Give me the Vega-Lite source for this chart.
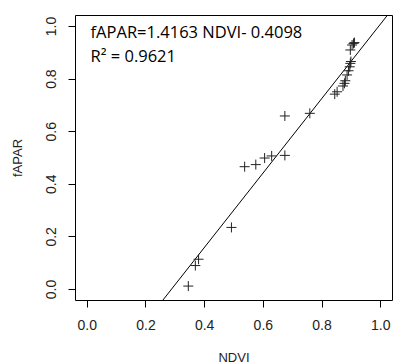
{
  "$schema": "https://vega.github.io/schema/vega-lite/v6.json",
  "width": 317,
  "height": 285,
  "autosize": {"type": "none"},
  "padding": {"left": 75, "top": 15, "right": 2, "bottom": 63},
  "background": "white",
  "config": {
    "view": {"stroke": "#000", "strokeWidth": 1},
    "axis": {
      "domain": false,
      "grid": false,
      "ticks": true,
      "tickColor": "#000",
      "tickSize": 7,
      "tickWidth": 1,
      "labelFont": "Liberation Sans",
      "labelFontSize": 14,
      "labelColor": "#222",
      "titleFont": "Liberation Sans",
      "titleFontSize": 13,
      "titleFontWeight": "normal",
      "titleColor": "#222"
    }
  },
  "datasets": {
    "pts": [
      {"NDVI": 0.346, "fAPAR": 0.011},
      {"NDVI": 0.370, "fAPAR": 0.089},
      {"NDVI": 0.381, "fAPAR": 0.113},
      {"NDVI": 0.493, "fAPAR": 0.234},
      {"NDVI": 0.538, "fAPAR": 0.465},
      {"NDVI": 0.576, "fAPAR": 0.473},
      {"NDVI": 0.606, "fAPAR": 0.498},
      {"NDVI": 0.630, "fAPAR": 0.506},
      {"NDVI": 0.675, "fAPAR": 0.508},
      {"NDVI": 0.675, "fAPAR": 0.658},
      {"NDVI": 0.760, "fAPAR": 0.668},
      {"NDVI": 0.845, "fAPAR": 0.741},
      {"NDVI": 0.853, "fAPAR": 0.750},
      {"NDVI": 0.873, "fAPAR": 0.772},
      {"NDVI": 0.878, "fAPAR": 0.782},
      {"NDVI": 0.881, "fAPAR": 0.792},
      {"NDVI": 0.887, "fAPAR": 0.814},
      {"NDVI": 0.892, "fAPAR": 0.830},
      {"NDVI": 0.896, "fAPAR": 0.845},
      {"NDVI": 0.898, "fAPAR": 0.858},
      {"NDVI": 0.900, "fAPAR": 0.865},
      {"NDVI": 0.898, "fAPAR": 0.909},
      {"NDVI": 0.904, "fAPAR": 0.928},
      {"NDVI": 0.909, "fAPAR": 0.934},
      {"NDVI": 0.912, "fAPAR": 0.937}
    ],
    "fit": [
      {"NDVI": 0.25, "fAPAR": -0.055725},
      {"NDVI": 1.05, "fAPAR": 1.077315}
    ],
    "notes": [
      {"label": "fAPAR=1.4163 NDVI- 0.4098", "NDVI": 0.013, "fAPAR": 0.973},
      {"label": "R² = 0.9621", "NDVI": 0.013, "fAPAR": 0.882}
    ]
  },
  "layer": [
    {
      "data": {"name": "fit"},
      "mark": {"type": "line", "color": "#000", "strokeWidth": 1, "clip": true},
      "encoding": {
        "x": {"field": "NDVI", "type": "quantitative"},
        "y": {"field": "fAPAR", "type": "quantitative"}
      }
    },
    {
      "data": {"name": "pts"},
      "mark": {"type": "point", "shape": "M-1,0L1,0M0,-1L0,1", "size": 100, "stroke": "#222", "strokeWidth": 1, "filled": false, "opacity": 1},
      "encoding": {
        "x": {
          "field": "NDVI", "type": "quantitative",
          "scale": {"domain": [-0.04, 1.04], "nice": false, "zero": false},
          "axis": {"values": [0, 0.2, 0.4, 0.6, 0.8, 1.0], "format": ".1f", "labelPadding": 11, "titlePadding": 19, "title": "NDVI"}
        },
        "y": {
          "field": "fAPAR", "type": "quantitative",
          "scale": {"domain": [-0.042, 1.042], "nice": false, "zero": false},
          "axis": {"values": [0, 0.2, 0.4, 0.6, 0.8, 1.0], "format": ".1f", "labelAngle": -90, "labelAlign": "center", "labelBaseline": "bottom", "labelPadding": 10, "titlePadding": 20, "title": "fAPAR"}
        }
      }
    },
    {
      "data": {"name": "notes"},
      "mark": {"type": "text", "align": "left", "baseline": "middle", "font": "Open Sans", "fontSize": 16.5, "color": "#000"},
      "encoding": {
        "x": {"field": "NDVI", "type": "quantitative"},
        "y": {"field": "fAPAR", "type": "quantitative"},
        "text": {"field": "label"}
      }
    }
  ]
}
